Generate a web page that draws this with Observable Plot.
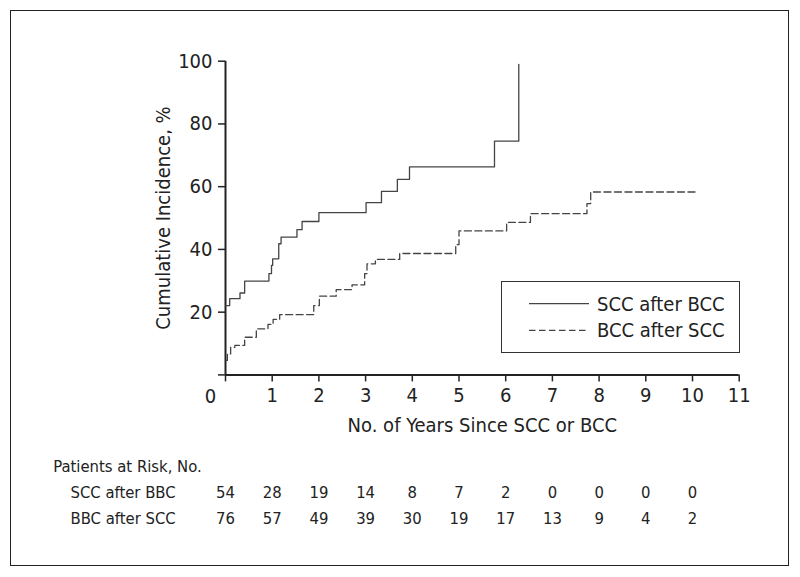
<!DOCTYPE html>
<html>
<head>
<meta charset="utf-8">
<script src="https://cdn.jsdelivr.net/npm/d3@7"></script>
<script src="https://cdn.jsdelivr.net/npm/@observablehq/plot@0.6"></script>
<style>
  html, body { margin: 0; padding: 0; background: #fff; }
  #fig { position: relative; width: 800px; height: 577px; overflow: hidden;
         font-family: "Liberation Sans Narrow", "Arial Narrow", "DejaVu Sans Condensed", sans-serif; color: #222; }
  #border { position: absolute; left: 10px; top: 10px; width: 777px; height: 554px; border: 1.5px solid #222; }
  #main { position: absolute; left: 0; top: 0; }
  #table { position: absolute; left: 0; top: 440px; }
  #legend { position: absolute; left: 501px; top: 281px; width: 237px; height: 70px; border: 1px solid #333; background: #fff; }
  #legend svg { display: block; }
</style>
</head>
<body>
<div id="fig">
  <div id="border"></div>
  <div id="main"></div>
  <div id="table"></div>
  <div id="legend"></div>
</div>
<script>
// ---- Data ----
const seriesNames = ["SCC after BCC", "BCC after SCC"];
const sccTime = [0, 0.09, 0.31, 0.41, 0.93, 0.985, 1.01, 1.14, 1.19, 1.53, 1.64, 2.0, 3.01, 3.34, 3.68, 3.94, 5.76, 6.28];
const sccPct  = [22.1, 24.3, 26.1, 29.9, 32.3, 34.9, 37.0, 41.8, 43.9, 46.3, 48.9, 51.7, 54.9, 58.5, 62.3, 66.3, 74.5, 99.0];
const bccTime = [0.02, 0.04, 0.11, 0.2, 0.41, 0.66, 0.91, 1.02, 1.16, 1.89, 2.01, 2.37, 2.71, 2.98, 3.03, 3.21, 3.73, 4.93, 5.0, 6.02, 6.53, 7.74, 7.82, 10.06];
const bccPct  = [4.6, 6.7, 8.8, 9.4, 12.0, 14.7, 16.1, 17.7, 19.2, 22.1, 25.1, 27.2, 28.7, 32.3, 35.4, 36.8, 38.7, 41.5, 45.9, 48.6, 51.4, 54.6, 58.3, 58.3];
const xTicks = [0, 1, 2, 3, 4, 5, 6, 7, 8, 9, 10, 11];
const yTicks = [0, 20, 40, 60, 80, 100];
const xLabel = "No. of Years Since SCC or BCC";
const yLabel = "Cumulative Incidence, %";
const riskTitle = "Patients at Risk, No.";
const riskRows = ["SCC after BBC", "BBC after SCC"];
const riskYears = [0, 1, 2, 3, 4, 5, 6, 7, 8, 9, 10];
const riskScc = [54, 28, 19, 14, 8, 7, 2, 0, 0, 0, 0];
const riskBcc = [76, 57, 49, 39, 30, 19, 17, 13, 9, 4, 2];

const FONT = '"Liberation Sans Narrow", "Arial Narrow", "DejaVu Sans Condensed", sans-serif';
const INK = "#222";
const CURVE = "#444";
const DASH = "7,3.5";

const scc = sccTime.map((t, i) => ({t, p: sccPct[i]}));
const bcc = bccTime.map((t, i) => ({t, p: bccPct[i]}));

const W = 800, H = 440;
const mLeft = 225, mRight = 61.3, mTop = 60.7, mBottom = 65.6;

const main = Plot.plot({
  width: W, height: H,
  marginLeft: mLeft, marginRight: mRight, marginTop: mTop, marginBottom: mBottom,
  x: {domain: [0, 11]},
  y: {domain: [0, 100]},
  style: {fontFamily: FONT, fontSize: "20px", color: INK, background: "transparent", overflow: "visible"},
  marks: [
    Plot.axisY({ticks: yTicks, tickSize: 7, tickPadding: 6, strokeWidth: 1.5,
                tickFormat: d => d === 0 ? "" : String(d), label: null}),
    Plot.axisX({ticks: xTicks, tickSize: 7, tickPadding: 6, strokeWidth: 1.5,
                tickFormat: d => d === 0 ? "" : String(d), label: null}),
    Plot.text([0], {x: d => d, frameAnchor: "bottom", dy: 22, dx: -15, text: d => String(d),
                    textAnchor: "middle", lineAnchor: "middle", fill: INK}),
    Plot.ruleY([0], {stroke: INK, strokeWidth: 2}),
    Plot.ruleX([0], {y1: 0, y2: 100, stroke: INK, strokeWidth: 2}),
    Plot.line(scc, {x: "t", y: "p", curve: "step-after", stroke: CURVE, strokeWidth: 1.3}),
    Plot.line(bcc, {x: "t", y: "p", curve: "step-after", stroke: CURVE, strokeWidth: 1.3, strokeDasharray: DASH}),
    Plot.text([yLabel], {frameAnchor: "left", dx: -62, rotate: -90, textAnchor: "middle", lineAnchor: "middle", fill: INK}),
    Plot.text([xLabel], {frameAnchor: "bottom", dy: 51, textAnchor: "middle", lineAnchor: "middle", fill: INK})
  ]
});
document.getElementById("main").appendChild(main);

// ---- Risk table (same x scale as the chart) ----
const riskData = [];
riskYears.forEach((yr, i) => {
  riskData.push({x: yr, row: riskRows[0], n: riskScc[i]});
  riskData.push({x: yr, row: riskRows[1], n: riskBcc[i]});
});
const rowDomain = [riskTitle, ...riskRows];
const table = Plot.plot({
  width: W, height: 137,
  marginLeft: mLeft, marginRight: mRight, marginTop: 25.5, marginBottom: 137 - 79,
  x: {domain: [0, 11]},
  y: {type: "point", domain: rowDomain, padding: 0},
  axis: null,
  style: {fontFamily: FONT, fontSize: "16.5px", color: INK, background: "transparent", overflow: "visible"},
  marks: [
    Plot.text([riskTitle], {y: d => d, frameAnchor: "left", dx: 52.7 - mLeft, textAnchor: "start", lineAnchor: "middle", fill: INK}),
    Plot.text(riskRows, {y: d => d, frameAnchor: "left", dx: 70 - mLeft, textAnchor: "start", lineAnchor: "middle", fill: INK}),
    Plot.text(riskData, {x: "x", y: "row", text: d => String(d.n), textAnchor: "middle", lineAnchor: "middle", fill: INK})
  ]
});
document.getElementById("table").appendChild(table);

// ---- Legend box ----
const leg = d3.select("#legend").append("svg").attr("width", 237).attr("height", 70)
  .style("font-family", FONT).style("font-size", "20px");
seriesNames.forEach((name, i) => {
  const cy = 21.7 + i * 26.6;
  leg.append("line").attr("x1", 27).attr("x2", 87).attr("y1", cy).attr("y2", cy)
    .attr("stroke", CURVE).attr("stroke-width", 1.3)
    .attr("stroke-dasharray", i === 1 ? "6.5,3.5" : null);
  leg.append("text").attr("x", 95).attr("y", cy).attr("dy", "0.35em").attr("fill", INK).text(name);
});
</script>
</body>
</html>
